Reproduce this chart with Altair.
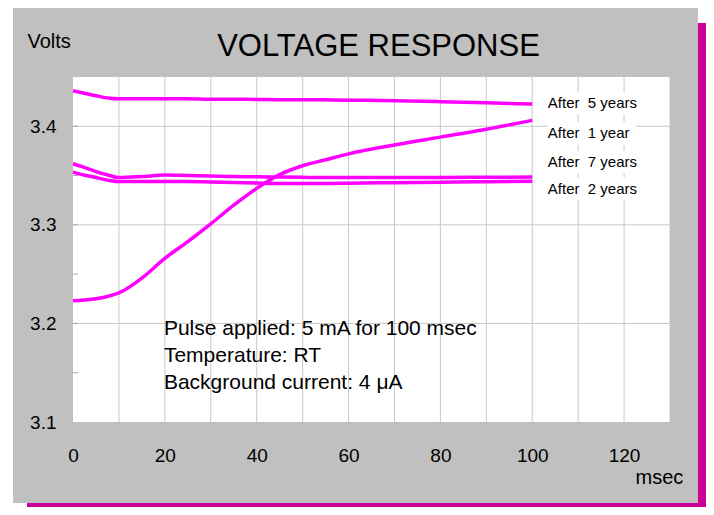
import altair as alt
import pandas as pd

# ---- data ----
t = [0, 2, 5, 8, 10, 15, 20, 25, 30, 35, 40, 45, 50, 55, 60, 70, 80, 90, 100]
after_5 = [3.436, 3.434, 3.431, 3.4285, 3.428, 3.428, 3.428, 3.428, 3.4275, 3.4275, 3.4272,
           3.427, 3.427, 3.4268, 3.4265, 3.426, 3.425, 3.4238, 3.4225]
after_1 = [3.223, 3.2235, 3.225, 3.228, 3.231, 3.246, 3.266, 3.283, 3.301, 3.320, 3.337,
           3.351, 3.360, 3.366, 3.372, 3.381, 3.389, 3.397, 3.406]
after_7 = [3.362, 3.359, 3.354, 3.350, 3.348, 3.349, 3.3505, 3.350, 3.3495, 3.349, 3.3488,
           3.3485, 3.3482, 3.348, 3.348, 3.348, 3.348, 3.3483, 3.3485]
after_2 = [3.3535, 3.351, 3.348, 3.345, 3.344, 3.344, 3.344, 3.344, 3.3435, 3.343, 3.3425,
           3.342, 3.342, 3.342, 3.3423, 3.3428, 3.3433, 3.3438, 3.3442]
series = ["After 5 years", "After 1 year", "After 7 years", "After 2 years"]
series_text = ["After\u00a0 5 years", "After\u00a0 1 year", "After\u00a0 7 years", "After\u00a0 2 years"]
label_v = [3.4234, 3.3929, 3.3635, 3.3365]
label_t = 103.4
box_t2 = 122.6

title_text = "VOLTAGE RESPONSE"
notes = ["Pulse applied: 5 mA for 100 msec", "Temperature: RT", "Background current: 4 \u03bcA"]
note_v = [3.1939, 3.1665, 3.1391]
note_t = 19.8

x_ticks = [0, 20, 40, 60, 80, 100, 120]
y_ticks = [3.1, 3.2, 3.3, 3.4]
x_grid = [10, 20, 30, 40, 50, 60, 70, 80, 90, 100, 110, 120, 130]
y_grid = [3.2, 3.3, 3.4]
y_minor = [3.15, 3.2, 3.25, 3.3, 3.35, 3.4]

# ---- tables ----
rows = []
for name, vals in zip(series, [after_5, after_1, after_7, after_2]):
    for ti, vi in zip(t, vals):
        rows.append({"t": ti, "v": vi, "s": name})
df = pd.DataFrame(rows)
labels_df = pd.DataFrame({"txt": series_text, "v": label_v, "t": label_t,
                          "t2": box_t2,
                          "lo": [v - 0.0115 for v in label_v],
                          "hi": [v + 0.0115 for v in label_v]})
notes_df = pd.DataFrame({"txt": notes, "v": note_v, "t": note_t})
one = pd.DataFrame({"a": [0]})
title_df = pd.DataFrame({"txt": [title_text]})

W, H = 597, 345
FONT = "Liberation Sans"
xs = alt.Scale(domain=[0, 130], nice=False, zero=False)
ys = alt.Scale(domain=[3.1, 3.45], nice=False, zero=False)

x_axis = alt.Axis(values=x_ticks, format="d", grid=False, ticks=False, tickSize=0, domain=False,
                  labelFlush=False, labelFontSize=19, labelPadding=24, labelColor="black",
                  labelFont=FONT,
                  title="msec", titleFont=FONT, titleFontSize=20, titleFontWeight="normal",
                  titleColor="black", titleX=562, titleY=61, titleAlign="left",
                  titleBaseline="alphabetic", zindex=1)
y_axis = alt.Axis(values=y_ticks, format=".1f", grid=False, ticks=False, tickSize=0, domain=False,
                  labelFlush=False, labelFontSize=19, labelPadding=17, labelColor="black",
                  labelFont=FONT,
                  title="Volts", titleFont=FONT, titleFontSize=20, titleFontWeight="normal",
                  titleColor="black", titleAngle=0, titleX=-46, titleY=-30, titleAlign="left",
                  titleBaseline="alphabetic", zindex=1)

# ---- decoration: shadow, gray panel, white plot area ----
shadow_r = alt.Chart(one).mark_rect(color="#cc0099").encode(
    x=alt.value(625), x2=alt.value(633), y=alt.value(-54), y2=alt.value(430))
shadow_b = alt.Chart(one).mark_rect(color="#cc0099").encode(
    x=alt.value(-46), x2=alt.value(633), y=alt.value(426), y2=alt.value(430))
panel = alt.Chart(one).mark_rect(color="#c0c0c0").encode(
    x=alt.value(-60), x2=alt.value(625), y=alt.value(-69), y2=alt.value(426))
plotbg = alt.Chart(one).mark_rect(color="white").encode(
    x=alt.value(0), x2=alt.value(W), y=alt.value(0), y2=alt.value(H))

vgrid = alt.Chart(pd.DataFrame({"g": x_grid})).mark_rule(color="#c8c8c8", strokeWidth=1).encode(
    x=alt.X("g:Q", scale=xs, axis=x_axis), y=alt.value(0), y2=alt.value(H))
hgrid = alt.Chart(pd.DataFrame({"g": y_grid})).mark_rule(color="#c8c8c8", strokeWidth=1).encode(
    y=alt.Y("g:Q", scale=ys, axis=y_axis), x=alt.value(0), x2=alt.value(W))
yticks = alt.Chart(pd.DataFrame({"g": y_minor})).mark_rule(color="#a8a8a8", strokeWidth=1).encode(
    y=alt.Y("g:Q", scale=ys, axis=y_axis), x=alt.value(0), x2=alt.value(5))

lines = alt.Chart(df).mark_line(color="#ff00ff", strokeWidth=3.5, interpolate="monotone").encode(
    x=alt.X("t:Q", scale=xs, axis=x_axis),
    y=alt.Y("v:Q", scale=ys, axis=y_axis),
    detail="s:N")

boxes = alt.Chart(labels_df).mark_rect(color="white").encode(
    x=alt.X("t:Q", scale=xs, axis=x_axis), x2="t2:Q",
    y=alt.Y("lo:Q", scale=ys, axis=y_axis), y2="hi:Q")
labels = alt.Chart(labels_df).mark_text(align="left", baseline="middle", font=FONT,
                                        fontSize=15, color="black").encode(
    x=alt.X("t:Q", scale=xs, axis=x_axis), y=alt.Y("v:Q", scale=ys, axis=y_axis), text="txt:N")
note_text = alt.Chart(notes_df).mark_text(align="left", baseline="middle", font=FONT,
                                          fontSize=21, color="black").encode(
    x=alt.X("t:Q", scale=xs, axis=x_axis), y=alt.Y("v:Q", scale=ys, axis=y_axis), text="txt:N")
title_mark = alt.Chart(title_df).mark_text(align="center", baseline="alphabetic", font=FONT,
                                           fontSize=31, color="black").encode(
    x=alt.value(W / 2 + 7), y=alt.value(-21), text="txt:N")

chart = alt.layer(shadow_r, shadow_b, panel, plotbg, vgrid, hgrid, yticks, lines,
                  boxes, labels, note_text, title_mark).properties(
    width=W, height=H,
    padding={"left": 65, "top": 69, "right": 36, "bottom": 85},
    autosize=alt.AutoSizeParams(type="none"),
).configure(background="white").configure_view(stroke=None)

chart.save("out.html", embed_options={"renderer": "svg", "actions": False})
